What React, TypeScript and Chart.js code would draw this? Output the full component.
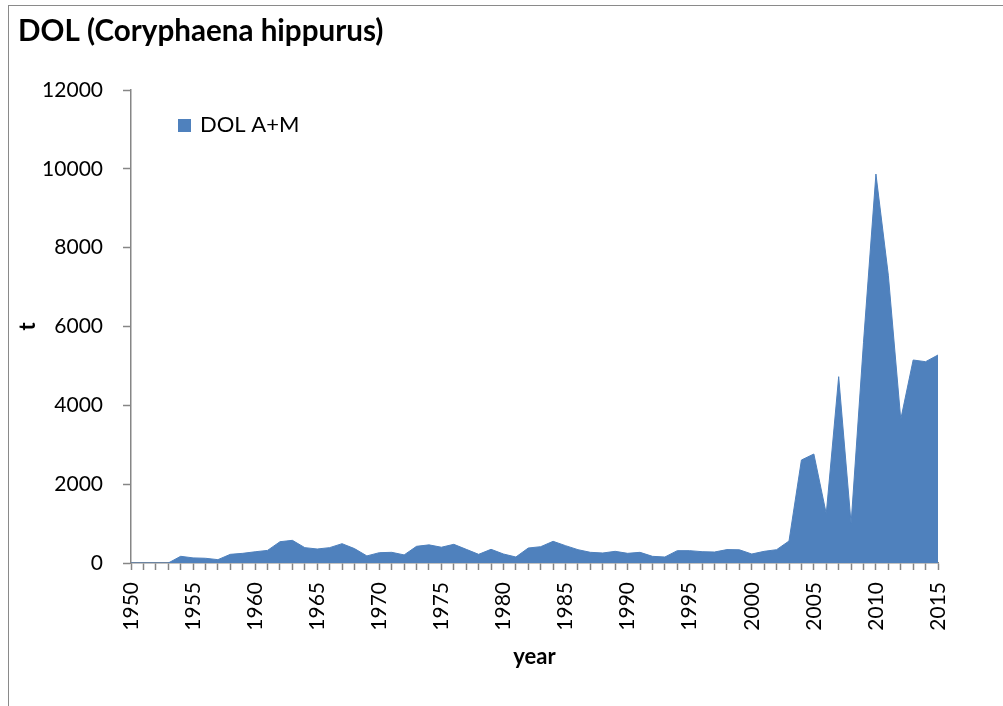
import React, { useEffect, useRef } from "react";
import { Chart, registerables } from "chart.js";

Chart.register(...registerables);

const chartTitle = "DOL (Coryphaena hippurus)";
const seriesName = "DOL A+M";
const xAxisTitle = "year";
const yAxisTitle = "t";

const years: string[] = [
  "1950","1951","1952","1953","1954","1955","1956","1957","1958","1959",
  "1960","1961","1962","1963","1964","1965","1966","1967","1968","1969",
  "1970","1971","1972","1973","1974","1975","1976","1977","1978","1979",
  "1980","1981","1982","1983","1984","1985","1986","1987","1988","1989",
  "1990","1991","1992","1993","1994","1995","1996","1997","1998","1999",
  "2000","2001","2002","2003","2004","2005","2006","2007","2008","2009",
  "2010","2011","2012","2013","2014","2015",
];

const catches: number[] = [
  0, 0, 0, 0, 170, 130, 120, 85, 220, 245,
  285, 320, 540, 575, 390, 355, 390, 490, 365, 180,
  262, 271, 205, 423, 460, 400, 474, 347, 220, 347,
  228, 152, 380, 414, 550, 440, 338, 271, 254, 296,
  245, 271, 169, 152, 313, 313, 287, 279, 340, 335,
  228, 296, 338, 558, 2613, 2765, 1250, 4727, 1000, 5600,
  9868, 7300, 3645, 5150, 5107, 5277,
];

const yMin = 0;
const yMax = 12000;
const yStep = 2000;

const FONT = "Lato, 'Noto Sans', sans-serif";
const AREA = "#4F81BD";
const AXIS = "#868686";

export default function App() {
  const ref = useRef<HTMLCanvasElement | null>(null);

  useEffect(() => {
    let chart: Chart | null = null;
    let cancelled = false;

    const overlay = {
      id: "overlay",
      afterDraw(c: any) {
        const ctx = c.ctx;
        const area = c.chartArea;
        ctx.save();
        ctx.fillStyle = "#000";
        ctx.textBaseline = "alphabetic";
        ctx.textAlign = "left";
        ctx.font = `bold 29.6px ${FONT}`;
        ctx.fillText(chartTitle, 18, 41);
        // legend
        const lx = area.left + 47;
        ctx.fillStyle = AREA;
        ctx.fillRect(lx, 119, 13, 13);
        ctx.fillStyle = "#000";
        ctx.font = `22px ${FONT}`;
        ctx.fillText(seriesName, lx + 22, 132);
        ctx.restore();
      },
    };

    const make = () => {
      if (cancelled || !ref.current) return;
      chart = new Chart(ref.current, {
        type: "line",
        data: {
          labels: years,
          datasets: [
            {
              label: seriesName,
              data: catches,
              fill: "origin",
              backgroundColor: AREA,
              borderColor: AREA,
              borderWidth: 1,
              pointRadius: 0,
              tension: 0,
            },
          ],
        },
        options: {
          animation: false,
          responsive: false,
          maintainAspectRatio: false,
          layout: { padding: { top: 90, right: 65, bottom: 0, left: 0 } },
          plugins: {
            legend: { display: false },
            title: { display: false },
            tooltip: { enabled: false },
          },
          scales: {
            x: {
              type: "category",
              offset: false,
              afterFit: (s: any) => {
                s.height = 143;
              },
              grid: {
                display: true,
                drawOnChartArea: false,
                drawTicks: true,
                tickLength: 7,
                tickColor: AXIS,
                tickWidth: 1.5,
              },
              border: { display: true, color: AXIS, width: 1.5 },
              ticks: {
                autoSkip: false,
                maxRotation: 90,
                minRotation: 90,
                padding: 12,
                color: "#000",
                font: { family: FONT, size: 21 },
                callback: function (this: any, _v: any, i: number) {
                  const y = Number(years[i]);
                  return y % 5 === 0 ? years[i] : "";
                },
              },
              title: {
                display: true,
                text: xAxisTitle,
                color: "#000",
                font: { family: FONT, size: 22, weight: "bold" },
                padding: { top: 0, bottom: 36 },
              },
            },
            y: {
              min: yMin,
              max: yMax,
              afterFit: (s: any) => {
                s.width = 131;
              },
              grid: {
                display: true,
                drawOnChartArea: false,
                drawTicks: true,
                tickLength: 8,
                tickColor: AXIS,
                tickWidth: 1.5,
              },
              border: { display: true, color: AXIS, width: 1.5 },
              ticks: {
                stepSize: yStep,
                padding: 20,
                color: "#000",
                font: { family: FONT, size: 21 },
                callback: (v: any) => String(v),
              },
              title: {
                display: true,
                text: yAxisTitle,
                color: "#000",
                font: { family: FONT, size: 22, weight: "bold" },
                padding: { top: 15, bottom: 0 },
              },
            },
          },
        },
        plugins: [overlay],
      });
    };

    const fonts: any = (document as any).fonts;
    if (fonts && fonts.load) {
      Promise.all([
        fonts.load(`21px Lato`),
        fonts.load(`bold 21px Lato`),
      ])
        .catch(() => null)
        .then(make);
    } else {
      make();
    }

    return () => {
      cancelled = true;
      if (chart) chart.destroy();
    };
  }, []);

  return (
    <div
      style={{
        position: "fixed",
        left: 0,
        top: 0,
        width: 1003,
        height: 706,
        overflow: "hidden",
        background: "#fff",
      }}
    >
      <div
        style={{
          position: "absolute",
          left: 8,
          top: 5,
          width: 1100,
          height: 800,
          border: "1px solid #8a8a8a",
        }}
      />
      <canvas
        ref={ref}
        width={1003}
        height={706}
        style={{ position: "absolute", left: 0, top: 0, width: 1003, height: 706 }}
      />
    </div>
  );
}
